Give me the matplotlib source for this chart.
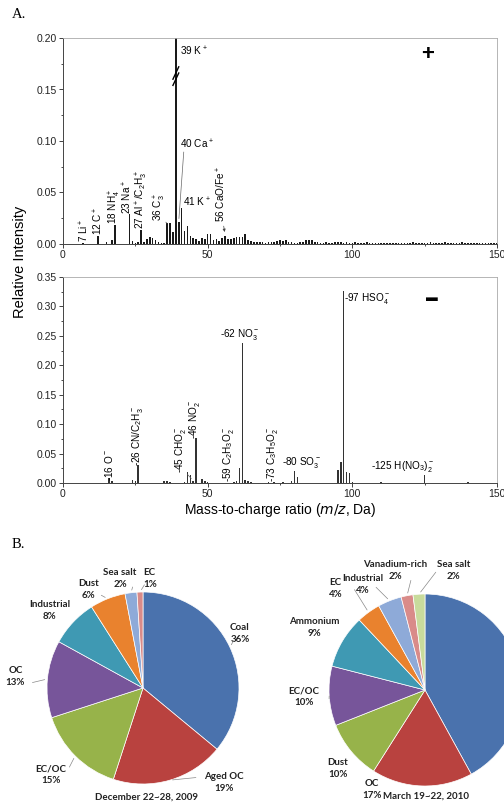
import numpy as np
import matplotlib
matplotlib.use("Agg")
import matplotlib.pyplot as plt
from matplotlib.ticker import MultipleLocator

plt.rcParams["font.family"] = ["Liberation Sans", "DejaVu Sans"]
plt.rcParams["mathtext.default"] = "regular"

# ---------------- data ----------------
# positive ion spectrum, m/z 1..150 (39 K+ is off scale)
pos_mz = np.arange(1, 151)
pos_int = [
    0, 0, 0, 0, 0, 0, 0.001, 0, 0, 0,
    0, 0.008, 0, 0, 0.002, 0, 0.004, 0.018, 0, 0,
    0, 0, 0.029, 0.003, 0.001, 0.002, 0.014, 0.002, 0.005, 0.007,
    0.006, 0.004, 0.002, 0.001, 0.001, 0.020, 0.020, 0.012, 0.500, 0.021,
    0.035, 0.013, 0.017, 0.008, 0.006, 0.005, 0.003, 0.006, 0.005, 0.010,
    0.010, 0.004, 0.005, 0.003, 0.006, 0.008, 0.005, 0.005, 0.006, 0.007,
    0.007, 0.007, 0.010, 0.004, 0.003, 0.002, 0.002, 0.002, 0.002, 0.001,
    0.002, 0.002, 0.002, 0.003, 0.004, 0.003, 0.004, 0.002, 0.002, 0.001,
    0.001, 0.002, 0.002, 0.004, 0.004, 0.004, 0.002, 0.002, 0.001, 0.001,
    0.002, 0.001, 0.001, 0.002, 0.002, 0.002, 0.001, 0.002, 0.001, 0.001,
    0.002, 0.001, 0.001, 0.001, 0.002, 0.001, 0.001, 0.001, 0.001, 0.001,
    0.001, 0.001, 0.001, 0.001, 0.001, 0.001, 0.001, 0.001, 0.001, 0.001,
    0.002, 0.001, 0.001, 0.001, 0.001, 0.001, 0.002, 0.001, 0.001, 0.001,
    0.001, 0.002, 0.001, 0.001, 0.001, 0.001, 0.001, 0.002, 0.001, 0.001,
    0.001, 0.001, 0.001, 0.001, 0.001, 0.001, 0.001, 0.001, 0.001, 0.001,
]
# negative ion spectrum
neg_mz = [16, 17, 24, 25, 26, 35, 36, 37, 42, 43, 44, 45, 46, 48, 49, 50, 59, 60,
          61, 62, 63, 64, 65, 71, 73, 76, 79, 80, 81, 95, 96, 97, 98, 99, 100, 110, 125, 140]
neg_int = [0.0085, 0.003, 0.005, 0.003, 0.031, 0.003, 0.003, 0.002, 0.002, 0.019, 0.013,
           0.003, 0.077, 0.007, 0.003, 0.002, 0.002, 0.003, 0.025, 0.238, 0.005, 0.004,
           0.002, 0.001, 0.002, 0.001, 0.004, 0.021, 0.010, 0.022, 0.035, 0.327, 0.018,
           0.017, 0.002, 0.001, 0.013, 0.001]

# pies
pie1_labels = ["Coal", "Aged OC", "EC/OC", "OC", "Industrial", "Dust", "Sea salt", "EC"]
pie1_values = [36, 19, 15, 13, 8, 6, 2, 1]
pie1_title = "December 22~28, 2009"
pie2_labels = ["Coal", "OC", "Dust", "EC/OC", "Ammonium", "EC", "Industrial",
               "Vanadium-rich", "Sea salt"]
pie2_values = [42, 17, 10, 10, 9, 4, 4, 2, 2]
pie2_title = "March 19~22, 2010"

C = {"blue": "#4a72ad", "red": "#b9423f", "green": "#97b34a", "purple": "#77559a",
     "teal": "#3f99b3", "orange": "#e9822e", "lblue": "#8eaad8", "pink": "#d98b89",
     "lgreen": "#c8db9c"}
pie1_colors = [C[k] for k in ("blue", "red", "green", "purple", "teal", "orange", "lblue", "pink")]
pie2_colors = [C[k] for k in ("blue", "red", "green", "purple", "teal", "orange", "lblue", "pink", "lgreen")]

W, H = 504, 805
fig = plt.figure(figsize=(W / 100, H / 100), dpi=100)

def px_axes(x0, y0, x1, y1):
    """axes from pixel box (left, top, right, bottom)"""
    return fig.add_axes([x0 / W, 1 - y1 / H, (x1 - x0) / W, (y1 - y0) / H])

def style(ax, ymax, ystep):
    ax.set_xlim(0, 150)
    ax.set_ylim(0, ymax)
    ax.xaxis.set_major_locator(MultipleLocator(50))
    ax.xaxis.set_minor_locator(MultipleLocator(25))
    ax.yaxis.set_major_locator(MultipleLocator(ystep))
    ax.yaxis.set_minor_locator(MultipleLocator(ystep / 2))
    ax.yaxis.set_major_formatter(plt.FormatStrFormatter("%.2f"))
    ax.tick_params(direction="out", length=3, width=0.6, labelsize=7.5, pad=1.5, colors="#222")
    ax.tick_params(which="minor", direction="out", length=1.5, width=0.5)
    for s in ("left", "bottom"):
        ax.spines[s].set_color("#444"); ax.spines[s].set_linewidth(0.7)
    for s in ("top", "right"):
        ax.spines[s].set_color("#aaa"); ax.spines[s].set_linewidth(0.6)

fs = 7.2
# ============ positive spectrum ============
ax = px_axes(63, 38, 497, 244)
ax.bar(pos_mz, pos_int, width=0.55, color="#1a1a1a")
style(ax, 0.20, 0.05)
rot = dict(rotation=90, fontsize=fs, ha="center", va="bottom")
ax.text(7.3, 0.0015, r"7 Li$^+$", **rot)
ax.text(12.3, 0.009, r"12 C$^+$", **rot)
ax.text(17.8, 0.019, r"18 NH$_4^+$", **rot)
ax.text(22.4, 0.0295, r"23 Na$^+$", **rot)
ax.text(27.4, 0.015, r"27 Al$^+$/C$_2$H$_3^+$", **rot)
ax.text(33.6, 0.022, r"36 C$_3^+$", **rot)
ax.text(54.6, 0.021, r"56 CaO/Fe$^+$", **rot)
ax.text(40.3, 0.193, r"39 K$^+$", fontsize=fs, va="top")
ax.text(40.6, 0.097, r"40 Ca$^+$", fontsize=fs, va="center")
ax.text(41.6, 0.040, r"41 K$^+$", fontsize=fs, va="center")
lead = dict(arrowstyle="-", color="#666", lw=0.5)
ax.annotate("", xy=(36, 0.020), xytext=(34.8, 0.023), arrowprops=lead)
ax.annotate("", xy=(40, 0.022), xytext=(41.8, 0.092), arrowprops=lead)
ax.annotate("", xy=(56, 0.009), xytext=(55.4, 0.020),
            arrowprops=dict(arrowstyle="-|>", color="#444", lw=0.5, mutation_scale=4))
# axis break marks on the 39 K+ line
for dy in (0.0, 0.006):
    ax.plot([38.0, 40.0], [0.154 + dy, 0.166 + dy], color="black", lw=1.0, clip_on=False)
ax.text(126, 0.184, "+", fontsize=16, fontweight="bold", ha="center", va="center")

# ============ negative spectrum ============
ax2 = px_axes(63, 277, 497, 483)
ax2.bar(neg_mz, neg_int, width=0.55, color="#333333")
style(ax2, 0.35, 0.05)
ax2.text(15.8, 0.003, r"-16 O$^-$", **rot)
ax2.text(25.6, 0.029, r"-26 CN/C$_2$H$_3^-$", **rot)
ax2.text(40.6, 0.017, r"-45 CHO$_2^-$", **rot)
ax2.text(45.4, 0.074, r"-46 NO$_2^-$", **rot)
ax2.text(57.2, 0.001, r"-59 C$_2$H$_3$O$_2^-$", **rot)
ax2.text(72.4, 0.001, r"-73 C$_3$H$_5$O$_2^-$", **rot)
ax2.text(61.0, 0.240, r"-62 NO$_3^-$", fontsize=fs, va="bottom", ha="center")
ax2.text(75.6, 0.022, r"-80 SO$_3^-$", fontsize=fs, va="bottom", ha="left")
ax2.text(97.2, 0.326, r"-97 HSO$_4^-$", fontsize=fs, va="top", ha="left")
ax2.text(117.5, 0.015, r"-125 H(NO$_3$)$_2^-$", fontsize=fs, va="bottom", ha="center")
ax2.annotate("", xy=(45, 0.004), xytext=(42.4, 0.018), arrowprops=lead)
ax2.text(127.5, 0.315, "\u25ac", fontsize=8.5, ha="center", va="center")
ax2.set_xlabel(r"Mass-to-charge ratio ($\mathit{m/z}$, Da)", fontsize=10, labelpad=1)

fig.text(20 / W, 1 - 262 / H, "Relative Intensity", rotation=90, fontsize=10.5,
         ha="center", va="center")
fig.text(12 / W, 1 - 15 / H, "A.", fontsize=10.5, family="Liberation Serif", va="center")
fig.text(12 / W, 1 - 545 / H, "B.", fontsize=10.5, family="Liberation Serif", va="center")

# ============ pies ============
R = 96
pfont = dict(fontsize=7, fontweight="bold", family=["Lato", "DejaVu Sans"], color="#222222",
             ha="center", va="center")

def draw_pie(cx, cy, labels, values, colors, spots, title_pos, title):
    pa = px_axes(cx - R, cy - R, cx + R, cy + R)
    wedges, _ = pa.pie(values, colors=colors, startangle=90, counterclock=False,
                       radius=1.0, wedgeprops=dict(edgecolor="white", linewidth=0.5))
    pa.set_xlim(-1, 1); pa.set_ylim(-1, 1); pa.set_aspect("equal"); pa.axis("off")
    for w, lab, v in zip(wedges, labels, values):
        if lab not in spots:
            continue
        lx, ly, ex = spots[lab]
        pa.text(lx, ly, lab, clip_on=False, **pfont)
        pa.text(lx, ly - 0.125, f"{v}%", clip_on=False, **pfont)
        if ex is not None:
            ang = np.deg2rad((w.theta1 + w.theta2) / 2)
            pa.annotate("", xy=(np.cos(ang), np.sin(ang)), xytext=ex,
                        arrowprops=dict(arrowstyle="-", color="#888", lw=0.5),
                        annotation_clip=False)
    pa.text(title_pos[0], title_pos[1], title, clip_on=False, **pfont)
    return pa

spots1 = {"Coal": (1.01, 0.63, (0.96, 0.52)),
          "Aged OC": (0.84, -0.92, (0.58, -0.93)),
          "EC/OC": (-0.96, -0.84, (-0.78, -0.85)),
          "OC": (-1.33, 0.18, (-1.18, 0.05)),
          "Industrial": (-0.97, 0.87, None),
          "Dust": (-0.57, 1.09, (-0.46, 0.98)),
          "Sea salt": (-0.24, 1.20, (-0.10, 1.08)),
          "EC": (0.07, 1.20, (0.03, 1.10))}
draw_pie(143, 688, pie1_labels, pie1_values, pie1_colors, spots1, (0.04, -1.14), pie1_title)

spots2 = {"OC": (-0.55, -0.97, None),
          "Dust": (-0.91, -0.76, None),
          "EC/OC": (-1.26, -0.01, (-1.0, -0.12)),
          "Ammonium": (-1.15, 0.71, None),
          "EC": (-0.93, 1.125, (-0.75, 1.07)),
          "Industrial": (-0.65, 1.16, (-0.53, 1.09)),
          "Vanadium-rich": (-0.31, 1.31, (-0.14, 1.17)),
          "Sea salt": (0.30, 1.31, (0.13, 1.25))}
draw_pie(425, 690, pie2_labels, pie2_values, pie2_colors, spots2, (0.01, -1.11), pie2_title)

fig.savefig("out.png", dpi=100)
